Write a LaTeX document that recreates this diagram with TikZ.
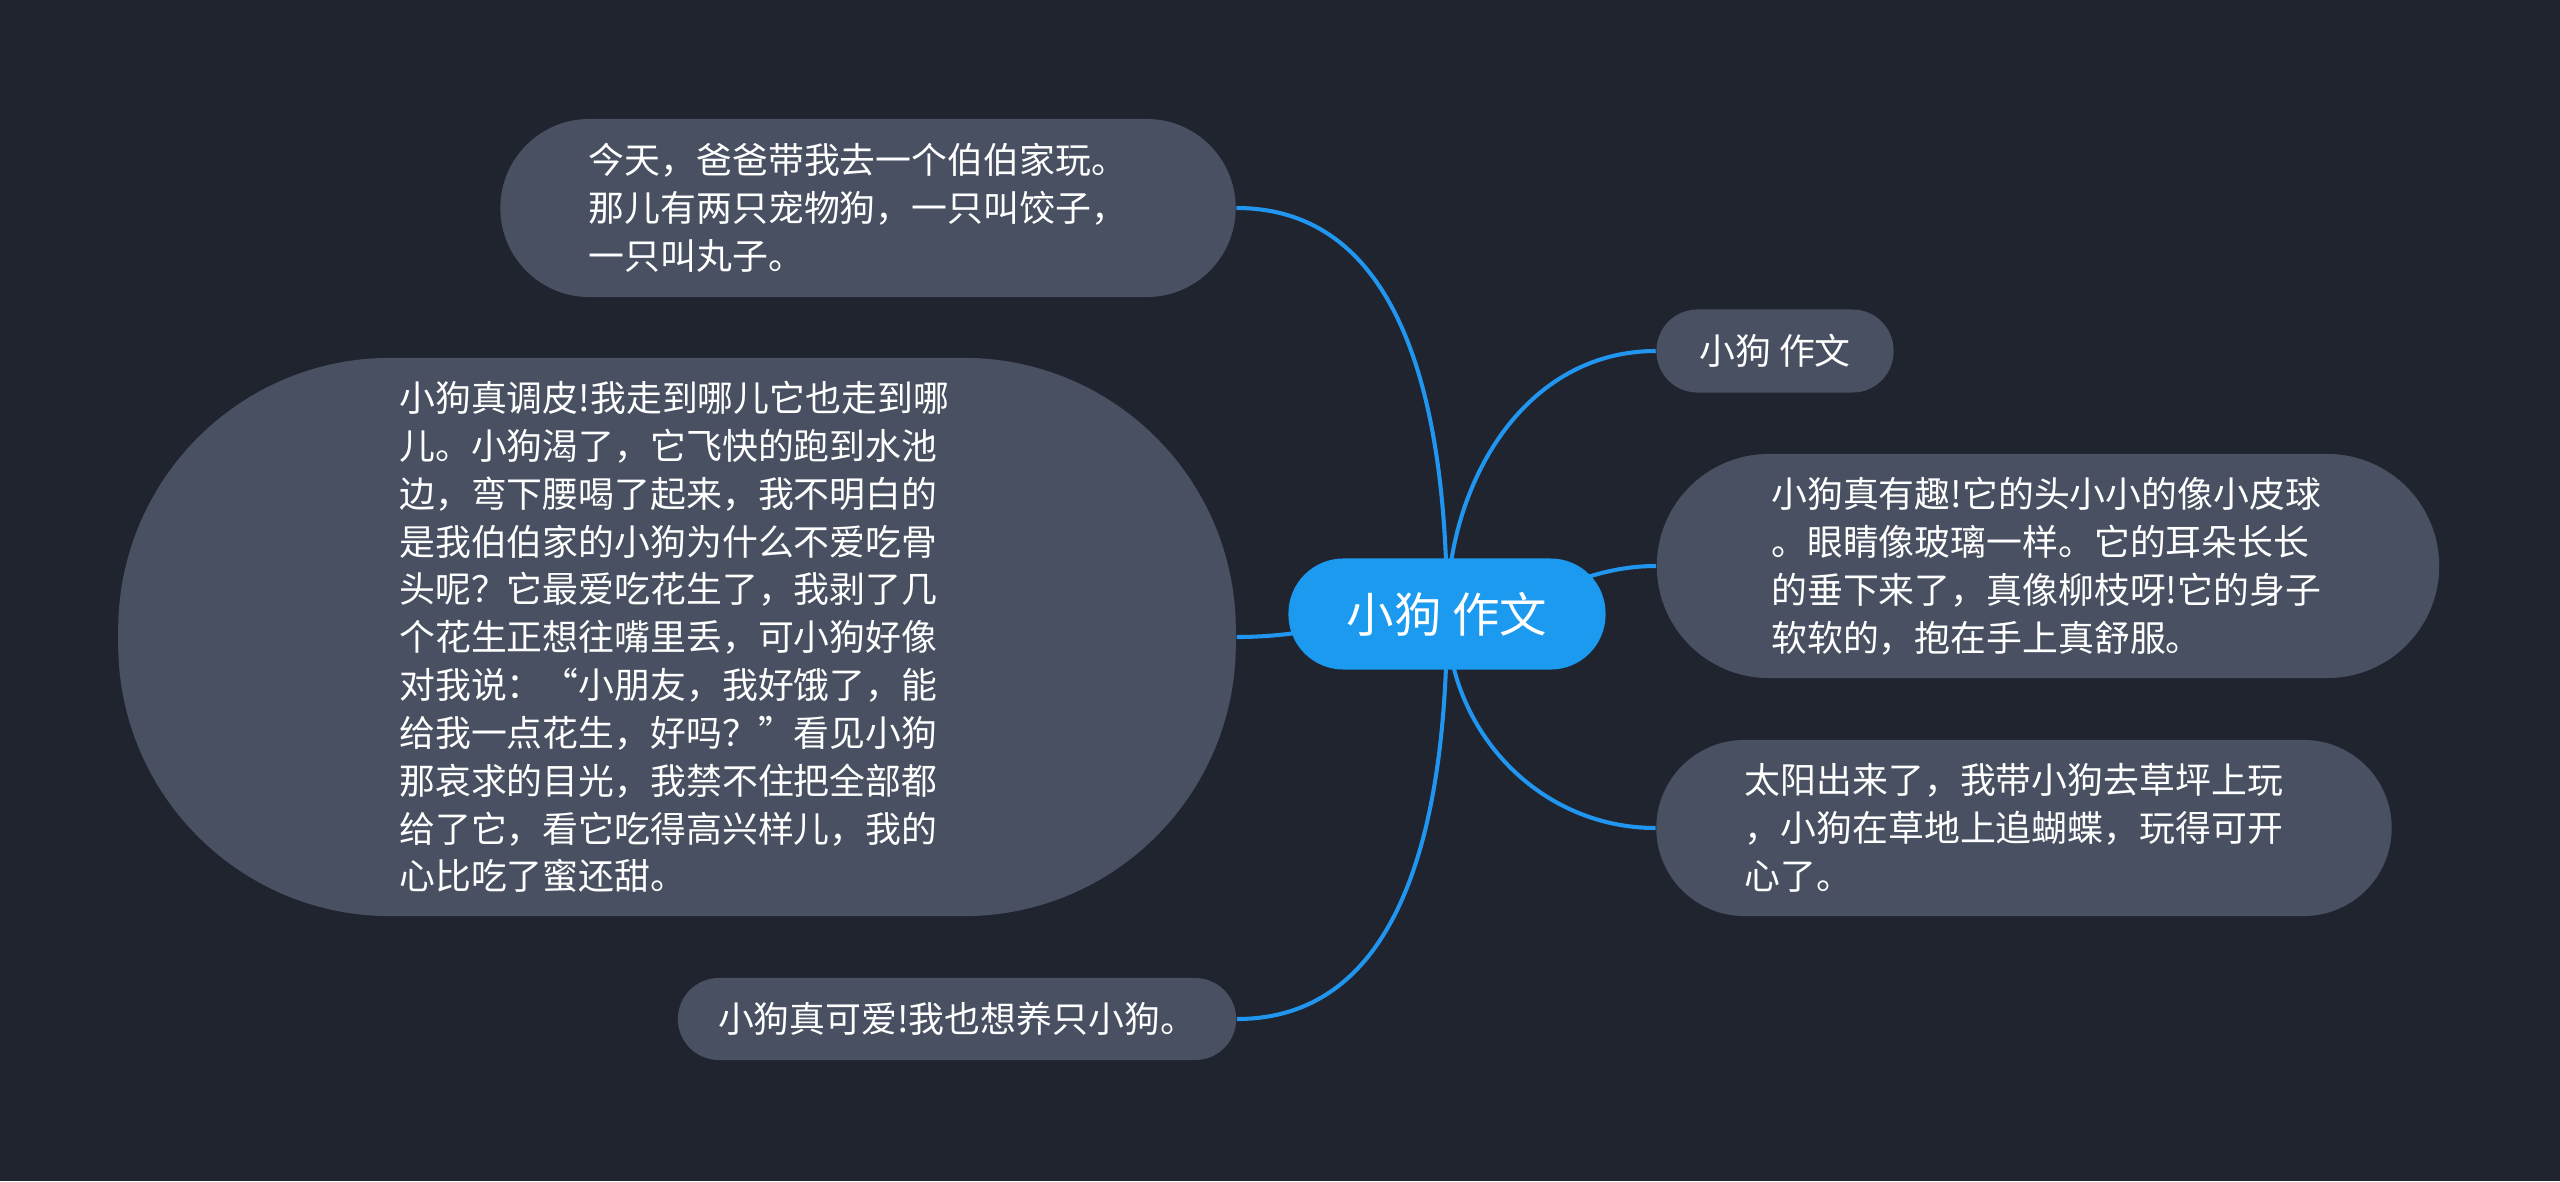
\documentclass[tikz,border=0pt]{standalone}
\usepackage{fontspec}
\setmainfont{Noto Sans CJK SC}
\definecolor{bgnavy}{HTML}{20242F}
\definecolor{slate}{HTML}{485061}
\definecolor{skyblue}{HTML}{1B9AF0}
\definecolor{wire}{HTML}{2196F0}
\pgfdeclarelayer{back}
\pgfdeclarelayer{wires}
\pgfsetlayers{back,wires,main}

\begin{document}
\begin{tikzpicture}[x=0.01cm,y=-0.01cm,
  idea/.style={fill=slate,text=white,align=left,inner sep=0pt,
    font=\fontsize{10.2}{13.6}\selectfont},
  hub/.style={fill=skyblue,text=white,inner sep=0pt,rounded corners=0.55cm,
    minimum width=3.17cm,minimum height=1.11cm,font=\fontsize{13.5}{16}\selectfont},
  link/.style={draw=wire,line width=1.15pt}]
\useasboundingbox (0,0) rectangle (2560,1181);
\begin{pgfonlayer}{back}
\fill[bgnavy] (0,0) rectangle (2560,1181);
\end{pgfonlayer}

% centre
\node[hub] (root) at (1447,614) {小狗 作文};

% left side
\node[idea,inner xsep=0.885cm,text width=5.58cm,minimum height=1.78cm,rounded corners=0.89cm] (visit) at (868,208)
  {今天，爸爸带我去一个伯伯家玩。\\
   那儿有两只宠物狗，一只叫饺子，\\
   一只叫丸子。};
\node[idea,inner xsep=2.81cm,text width=5.55cm,minimum height=5.58cm,rounded corners=2.72cm] (naughty) at (677,637)
  {小狗真调皮!我走到哪儿它也走到哪\\
   儿。小狗渴了，它飞快的跑到水池\\
   边，弯下腰喝了起来，我不明白的\\
   是我伯伯家的小狗为什么不爱吃骨\\
   头呢？它最爱吃花生了，我剥了几\\
   个花生正想往嘴里丢，可小狗好像\\
   对我说：“小朋友，我好饿了，能\\
   给我一点花生，好吗？”看见小狗\\
   那哀求的目光，我禁不住把全部都\\
   给了它，看它吃得高兴样儿，我的\\
   心比吃了蜜还甜。};
\node[idea,minimum width=5.58cm,minimum height=0.82cm,rounded corners=0.41cm] (cute) at (957,1019)
  {小狗真可爱!我也想养只小狗。};

% right side
\node[idea,minimum width=2.37cm,minimum height=0.83cm,rounded corners=0.41cm] (title) at (1775,351)
  {小狗 作文};
\node[idea,inner xsep=1.145cm,text width=5.53cm,minimum height=2.24cm,rounded corners=1.12cm] (funny) at (2048,566)
  {小狗真有趣!它的头小小的像小皮球\\
   。眼睛像玻璃一样。它的耳朵长长\\
   的垂下来了，真像柳枝呀!它的身子\\
   软软的，抱在手上真舒服。};
\node[idea,inner xsep=0.885cm,text width=5.58cm,minimum height=1.76cm,rounded corners=0.88cm] (sunny) at (2024,828)
  {太阳出来了，我带小狗去草坪上玩\\
   ，小狗在草地上追蝴蝶，玩得可开\\
   心了。};

\begin{pgfonlayer}{wires}
\draw[link] (root.center) to[out=90,in=0] (visit.east);
\draw[link] (root.center) to[out=180,in=0] (naughty.east);
\draw[link] (root.center) to[out=-90,in=0] (cute.east);
\draw[link] (root.center) to[out=90,in=180] (title.west);
\draw[link] (root.center) to[out=0,in=180] (funny.west);
\draw[link] (root.center) to[out=-90,in=180] (sunny.west);
\end{pgfonlayer}
\end{tikzpicture}
\end{document}
